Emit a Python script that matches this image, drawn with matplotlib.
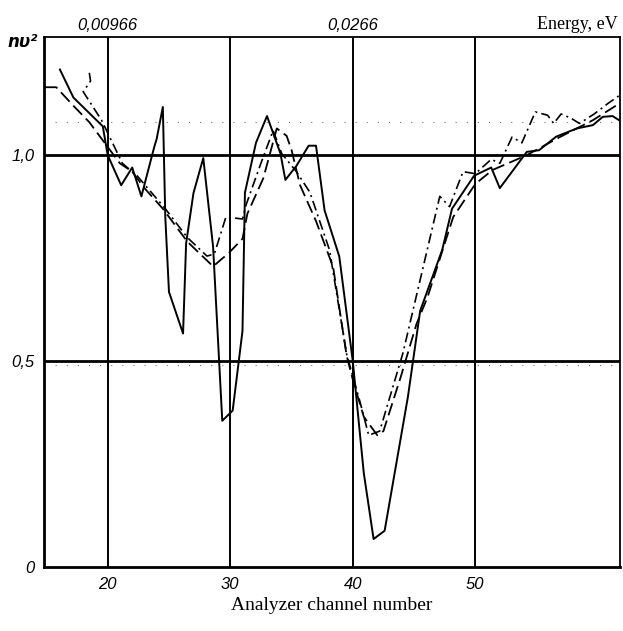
import matplotlib.pyplot as plt

# solid curve
ch_solid = [16.1, 17.2, 19.6, 20.0, 21.1, 22.0, 22.75, 23.8, 24.0, 24.5, 24.7, 25.0,
            26.15, 26.4, 27.0, 27.8, 28.6, 29.35, 30.2, 31.0, 31.2, 32.1, 33.0, 34.1,
            34.5, 35.4, 36.4, 37.0, 37.7, 38.9, 40.0, 40.9, 41.7, 42.6, 44.5, 45.5,
            47.3, 48.1, 49.9, 51.3, 52.0, 54.2, 55.2, 56.6, 58.3, 59.6, 60.4, 61.2, 62.0]
nv_solid = [1.208, 1.14, 1.07, 1.0, 0.927, 0.97, 0.90, 1.02, 1.04, 1.117, 0.85, 0.668,
            0.567, 0.786, 0.908, 0.993, 0.778, 0.355, 0.38, 0.573, 0.909, 1.03, 1.095, 1.004,
            0.94, 0.974, 1.023, 1.023, 0.866, 0.754, 0.5, 0.228, 0.068, 0.088, 0.413, 0.622,
            0.77, 0.87, 0.95, 0.97, 0.92, 1.008, 1.012, 1.045, 1.065, 1.073, 1.093, 1.095, 1.08]

# dashed curve
ch_dash = [14.9, 15.8, 17.2, 18.5, 20.0, 21.0, 22.0, 23.0, 24.5, 26.5, 28.6, 29.9, 31.0,
           31.4, 32.7, 33.8, 34.6, 35.0, 35.7, 37.0, 38.4, 39.5, 40.1, 40.9, 42.0, 42.5,
           43.9, 45.2, 46.1, 48.2, 50.0, 51.4, 54.2, 56.9, 59.6, 62.0]
nv_dash = [1.165, 1.165, 1.12, 1.08, 1.02, 0.98, 0.96, 0.92, 0.87, 0.79, 0.73, 0.763, 0.797,
           0.858, 0.944, 1.065, 1.047, 1.013, 0.927, 0.84, 0.728, 0.513, 0.444, 0.365, 0.32, 0.33,
           0.46, 0.59, 0.655, 0.85, 0.93, 0.964, 1.0, 1.044, 1.085, 1.13]

# dash-dot curve
ch_dd = [18.5, 18.6, 18.0, 19.5, 21.2, 22.4, 24.7, 26.5, 28.1, 28.7, 29.65, 31.0, 31.3,
         32.5, 33.5, 34.2, 35.4, 36.5, 38.1, 39.5, 40.6, 41.3, 42.2, 44.1, 47.1, 47.9,
         49.0, 50.0, 51.3, 52.0, 53.0, 53.8, 54.9, 55.9, 56.4, 57.0, 57.8, 58.5, 59.7,
         60.8, 62.0]
nv_dd = [1.2, 1.18, 1.154, 1.085, 0.98, 0.95, 0.87, 0.80, 0.755, 0.76, 0.85, 0.845, 0.88,
         0.98, 1.06, 1.004, 0.96, 0.91, 0.77, 0.517, 0.4, 0.32, 0.33, 0.52, 0.90, 0.875,
         0.96, 0.955, 0.99, 0.98, 1.044, 1.03, 1.105, 1.097, 1.077, 1.1, 1.09, 1.077, 1.1,
         1.125, 1.15]

x_ticks = [20, 30, 40, 50]
y_ticks = [0, 0.5, 1.0]
y_labels = ['0', '0,5', '1,0']
energy_ch = [20, 40]
energy_labels = ['0,00966', '0,0266']

fig = plt.figure(figsize=(6.23, 6.31), dpi=100)
ax = fig.add_axes([0.0706, 0.1014, 0.9244, 0.84])

ax.set_xlim(14.8, 61.8)
ax.set_ylim(0, 1.287)

for xv in x_ticks:
    ax.axvline(xv, color='black', lw=1.4, zorder=1)
for yv in [0.5, 1.0]:
    ax.axhline(yv, color='black', lw=2.0, zorder=1)
# faint dotted traces of the original grid
for yv in [1.08, 0.49]:
    ax.axhline(yv, color='0.45', lw=0.8, ls=(0, (1, 9)), zorder=1)

ax.plot(ch_solid, nv_solid, color='black', lw=1.4, zorder=3)
ax.plot(ch_dash, nv_dash, color='black', lw=1.3, ls=(0, (7, 3)), zorder=3)
ax.plot(ch_dd, nv_dd, color='black', lw=1.2, ls=(0, (6, 2.5, 1.2, 2.5)), zorder=3)

for side in ['left', 'bottom']:
    ax.spines[side].set_linewidth(2.0)
ax.spines['top'].set_linewidth(1.3)
ax.spines['right'].set_linewidth(1.3)

ax.set_xticks(x_ticks)
ax.set_xticklabels([str(t) for t in x_ticks], fontsize=12, style='italic',
                   family='Liberation Sans')
ax.set_yticks(y_ticks)
ax.set_yticklabels(y_labels, fontsize=12, style='italic', family='Liberation Sans')
ax.tick_params(length=0, pad=7)

for c, lab in zip(energy_ch, energy_labels):
    ax.text(c, 1.297, lab, ha='center', va='bottom', fontsize=12, style='italic',
            family='Liberation Sans')
ax.text(61.6, 1.297, 'Energy, eV', ha='right', va='bottom', fontsize=13,
        family='Liberation Serif')
fig.text(0.012, 0.925, 'nυ²', fontsize=12, style='italic', weight='bold',
         family='DejaVu Sans')

ax.set_xlabel('Analyzer channel number', fontsize=14, family='Liberation Serif',
              labelpad=4)

fig.savefig('out.png', dpi=100)
